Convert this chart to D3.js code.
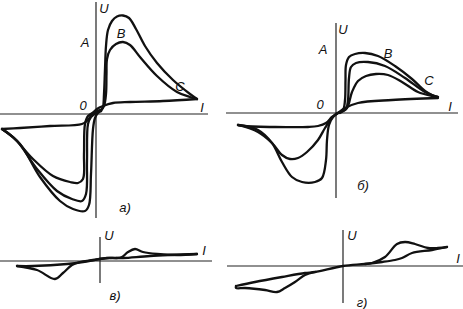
<!DOCTYPE html>
<html>
<head>
<meta charset="utf-8">
<script src="https://cdn.jsdelivr.net/npm/d3@7"></script>
<style>
  body { margin: 0; background: #fff; }
  svg text { font-family: "Liberation Sans", "DejaVu Sans", sans-serif; font-style: italic; font-size: 13px; fill: #111; }
</style>
</head>
<body>
<svg id="chart" width="463" height="309"></svg>
<script>
// curves: [I, U] points, in drawing units of each panel (axes cross at 0,0)

// panel a)
const aRise1 = [[5,3],[7,7],[8,20],[9,45],[10,68],[12,84],[16,93],[21,97.5],[27,98.5],[33,96],[40,85],[49,68],[61,51],[77,34],[94,20],[101,15]];
const aRise2 = [[5,4],[8,8],[10,20],[10.5,40],[11,55],[14,64],[20,70],[27,72],[34,69],[44,57],[61,38],[81,22],[94,17],[101,15]];
const aBack  = [[101,15],[67,13],[34,12],[17,11],[7,8],[1,5],[-4,0],[-8,-6],[-14,-10],[-46,-12],[-76,-14],[-94,-15]];
const aFall1 = [[-94,-15],[-76,-30],[-56,-63],[-36,-87],[-23,-95],[-11,-97],[-7,-91],[-5,-60],[-3,-15],[-1,-4],[2,1],[5,3]];
const aFall2 = [[-94,-15],[-79,-27],[-59,-55],[-39,-77],[-24,-85],[-14,-87],[-10,-80],[-9,-47],[-8,-10],[-5,-3],[0,1],[5,4]];
const aFall3 = [[-94,-15],[-83,-23],[-63,-45],[-43,-62],[-26,-68],[-18,-69],[-13,-65],[-12,-40],[-11,-10],[-8,-2],[-2,2],[4,4]];

// panel б)
const bRise1 = [[2,0],[7,3],[9,13],[9.5,33],[10,48],[13,56],[19,59],[29,60],[42,57],[59,47],[76,34],[89,22],[96,18],[102,16]];
const bRise2 = [[4,1],[10,4],[12,13],[13,35],[15,46],[20,50],[32,51],[49,47],[69,35],[89,21],[102,16]];
const bRise3 = [[4,0],[11,5],[16,21],[22,32],[30,37],[40,39],[52,38],[66,31],[82,21],[96,17],[102,16]];
const bBack  = [[102,15],[56,13],[22,10],[9,5],[2,0],[-4,-4],[-10,-10],[-18,-13],[-28,-14],[-61,-14],[-91,-13],[-98,-12]];
const bFall1 = [[-98,-12],[-78,-17],[-64,-30],[-54,-49],[-44,-64],[-34,-69],[-21,-69],[-14,-65],[-10,-47],[-9,-27],[-7,-12],[-3,-4],[2,0]];
const bFall2 = [[-98,-12],[-78,-19],[-64,-30],[-54,-42],[-46,-46],[-38,-45],[-29,-39],[-18,-27],[-11,-15],[-5,-6],[0,-1],[4,1]];

// panel в)
const cBack = [[97,7],[50,5],[23,3],[10,3],[0,2],[-17,-1],[-33,-3],[-67,-5],[-83,-5]];
const cLoop = [[-83,-5],[-63,-9],[-45,-18],[-37,-12],[-28,-4],[-20,-1],[-7,1],[7,3],[17,3],[22,4],[28,9],[35,12],[43,9],[57,7],[77,6],[97,7]];

// panel г)
const dLine = [[-107,-20],[-88,-16],[-61,-11],[-38,-7],[-28,-6],[0,0],[22,2],[39,4],[52,6],[59,8],[69,13],[89,16],[104,19]];
const dUp   = [[22,2],[29,3],[42,9],[54,22],[62,24],[72,22],[85,18],[95,18],[104,19]];
const dDown = [[-107,-20],[-107,-22],[-98,-22],[-78,-24],[-66,-26],[-58,-22],[-48,-16],[-38,-9],[-28,-6]];

const panels = [
  { name: "а)", ix: [-96,112], iy: [-104,112], rx: [0,208], ry: [218,2],
    curves: [aRise1, aRise2, aBack, aFall1, aFall2, aFall3],
    labels: [["U",8,106],["A",-11,72],["B",25,81],["C",84,28],["0",-13,9],["I",106,7],["а)",29,-93]] },
  { name: "б)", ix: [-110,122], iy: [-85,90], rx: [226,458], ry: [198,23],
    curves: [bRise1, bRise2, bRise3, bBack, bFall1, bFall2],
    labels: [["U",7,84],["A",-13,64],["B",52,60],["C",93,33],["0",-16,9],["I",114,7],["б)",27,-72]] },
  { name: "в)", ix: [-100,112], iy: [-22,24], rx: [0,212], ry: [283,237],
    curves: [cBack, cLoop],
    labels: [["U",9,26],["I",104,11],["в)",15,-34]] },
  { name: "г)", ix: [-116,120], iy: [-37,36], rx: [227,463], ry: [303,230],
    curves: [dLine, dUp, dDown],
    labels: [["U",9,31],["I",115,8],["г)",19,-36]] }
];

const svg = d3.select("#chart");

panels.forEach(p => {
  const x = d3.scaleLinear().domain(p.ix).range(p.rx);
  const y = d3.scaleLinear().domain(p.iy).range(p.ry);
  const g = svg.append("g");

  // axes
  g.append("line")
    .attr("x1", x(p.ix[0])).attr("x2", x(p.ix[1]))
    .attr("y1", y(0)).attr("y2", y(0))
    .attr("stroke", "#222").attr("stroke-width", 1.2);
  g.append("line")
    .attr("x1", x(0)).attr("x2", x(0))
    .attr("y1", y(p.iy[0])).attr("y2", y(p.iy[1]))
    .attr("stroke", "#222").attr("stroke-width", 1.2);

  const line = d3.line()
    .x(d => x(d[0]))
    .y(d => y(d[1]))
    .curve(d3.curveCatmullRom.alpha(0.5));

  g.selectAll("path.curve")
    .data(p.curves)
    .enter()
    .append("path")
    .attr("class", "curve")
    .attr("d", line)
    .attr("fill", "none")
    .attr("stroke", "#111")
    .attr("stroke-width", 2.3)
    .attr("stroke-linejoin", "round")
    .attr("stroke-linecap", "round");

  g.selectAll("text")
    .data(p.labels)
    .enter()
    .append("text")
    .attr("x", d => x(d[1]))
    .attr("y", d => y(d[2]))
    .attr("text-anchor", "middle")
    .attr("dominant-baseline", "central")
    .text(d => d[0]);
});
</script>
</body>
</html>
